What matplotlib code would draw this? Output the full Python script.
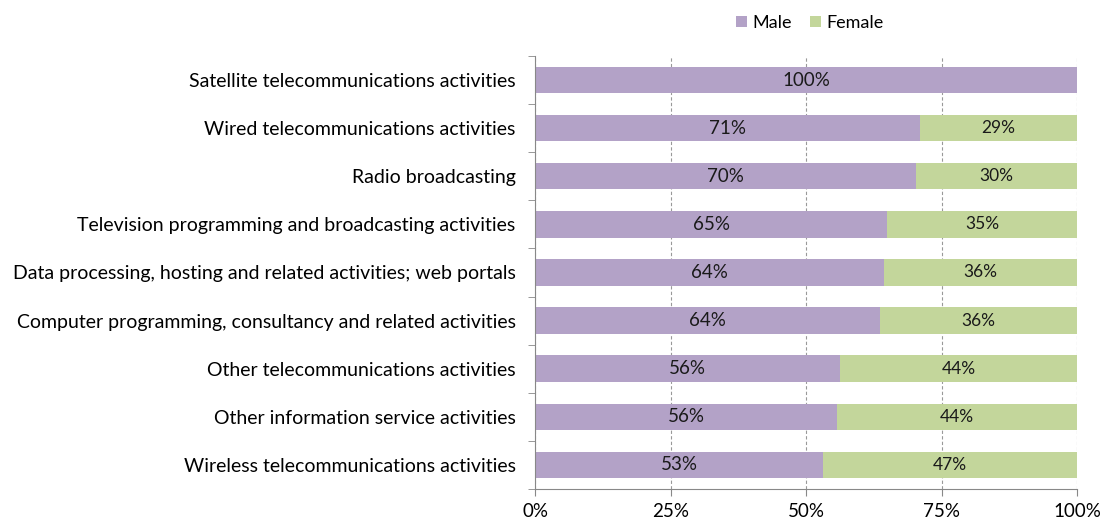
import matplotlib.pyplot as plt
import numpy as np

plt.rcParams['font.family'] = ['Lato', 'DejaVu Sans']

activities = [
    'Satellite telecommunications activities',
    'Wired telecommunications activities',
    'Radio broadcasting',
    'Television programming and broadcasting activities',
    'Data processing, hosting and related activities; web portals',
    'Computer programming, consultancy and related activities',
    'Other telecommunications activities',
    'Other information service activities',
    'Wireless telecommunications activities',
]
male = np.array([100.0, 71.0, 70.3, 65.0, 64.4, 63.6, 56.3, 55.7, 53.1])
female = 100.0 - male

purple = '#b3a2c7'
green = '#c3d69b'

fig = plt.figure(figsize=(11, 5.18), dpi=100)
ax = fig.add_axes([0.4864, 0.056, 0.4927, 0.836])

y = np.arange(len(activities))
ax.barh(y, male, height=0.55, color=purple, label='Male', zorder=2)
ax.barh(y, female, left=male, height=0.55, color=green, label='Female', zorder=2)

for i in range(len(activities)):
    ax.text(male[i] / 2, y[i], f'{male[i]:.0f}%', ha='center', va='center',
            fontsize=13.5, color='#1a1a1a', zorder=3)
    if female[i] > 0.5:
        ax.text(male[i] + female[i] / 2, y[i], f'{female[i]:.0f}%', ha='center',
                va='center', fontsize=12.5, color='#1a1a1a', zorder=3)

ax.set_xlim(0, 100)
ax.set_ylim(len(activities) - 0.5, -0.5)
ax.set_xticks([0, 25, 50, 75, 100])
ax.set_xticklabels(['0%', '25%', '50%', '75%', '100%'], fontsize=13.5)
ax.set_yticks(y)
ax.set_yticklabels(activities, fontsize=14)
ax.set_yticks(np.arange(-0.5, len(activities), 1), minor=True)
ax.tick_params(axis='y', which='major', length=0, pad=14)
ax.tick_params(axis='y', which='minor', length=5, color='#888888')
ax.tick_params(axis='x', length=5, color='#888888', pad=5)

ax.xaxis.grid(True, linestyle=(0, (3, 2)), color='#999999', linewidth=0.8, zorder=0)
for s in ['top', 'right']:
    ax.spines[s].set_visible(False)
for s in ['left', 'bottom']:
    ax.spines[s].set_color('#888888')

fig.legend(loc='upper center', bbox_to_anchor=(0.736, 1.003), ncol=2, frameon=False,
           fontsize=13, handlelength=0.6, handleheight=0.6, columnspacing=1.0,
           handletextpad=0.3)

fig.savefig('out.png', dpi=100)
